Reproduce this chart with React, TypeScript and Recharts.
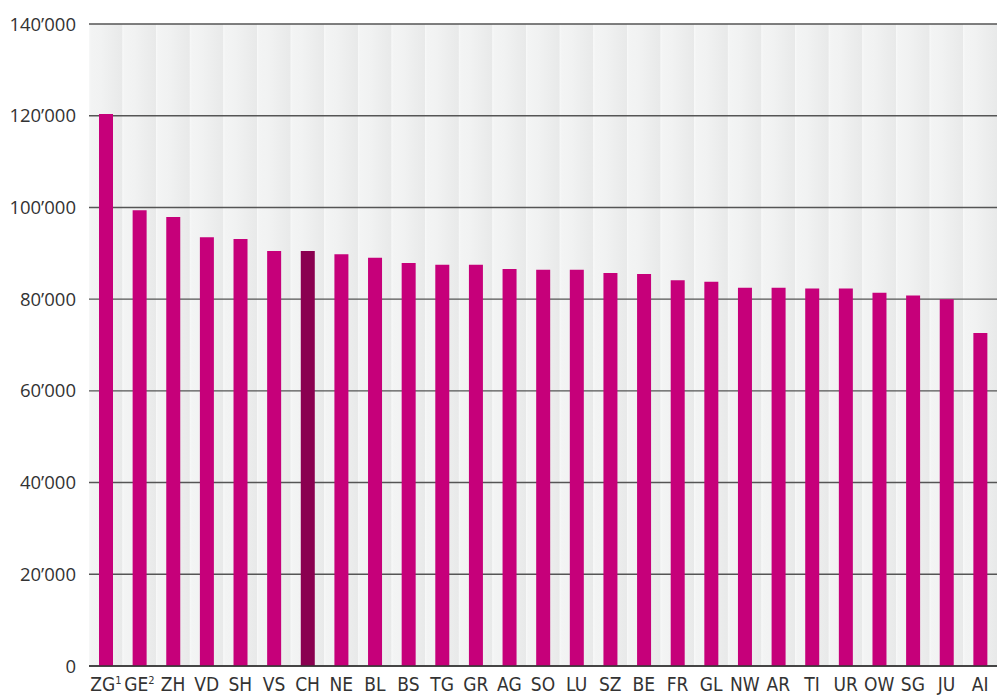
import { Bar, BarChart, CartesianGrid, Cell, ReferenceArea, XAxis, YAxis } from 'recharts'

const cantons = ['ZG', 'GE', 'ZH', 'VD', 'SH', 'VS', 'CH', 'NE', 'BL', 'BS', 'TG', 'GR', 'AG', 'SO', 'LU', 'SZ', 'BE', 'FR', 'GL', 'NW', 'AR', 'TI', 'UR', 'OW', 'SG', 'JU', 'AI']
const values = [120400, 99400, 97900, 93500, 93100, 90500, 90500, 89800, 89000, 87900, 87500, 87500, 86600, 86400, 86400, 85700, 85500, 84100, 83800, 82500, 82500, 82300, 82300, 81400, 80800, 80000, 72600]
const footnotes: Record<string, string> = { ZG: '1', GE: '2' }
const yTicks = [0, 20000, 40000, 60000, 80000, 100000, 120000, 140000]

const PINK = '#c6007a'
const DARK = '#8a0050'

const rows = cantons.map((c, i) => ({ canton: c, value: values[i] }))

const fmt = (n: number) => n === 0 ? '0' : `${Math.floor(n / 1000)}’000`

function CantonTick(props: any) {
  const { x, y, payload } = props
  const note = footnotes[payload.value]
  return (
    <text x={x} y={y} dy="0.71em" textAnchor="middle" fill="#333" fontSize={19} fontStretch="condensed"
      fontFamily="'DejaVu Sans Condensed', 'DejaVu Sans', sans-serif">
      {payload.value}
      {note && <tspan dy={-7} fontSize={11}>{note}</tspan>}
    </text>
  )
}

export default function App() {
  return (
    <div style={{ position: 'absolute', left: 0, top: 0, width: 997, height: 695, background: '#fff' }}>
      <BarChart width={997} height={695} data={rows} margin={{ top: 24, right: 0, bottom: 0, left: 0 }}>
        <defs>
          <linearGradient id="band" x1="0" y1="0" x2="1" y2="0">
            <stop offset="0" stopColor="#f7f8f8" />
            <stop offset="0.06" stopColor="#f3f4f4" />
            <stop offset="0.35" stopColor="#f1f2f2" />
            <stop offset="1" stopColor="#e8e9e9" />
          </linearGradient>
        </defs>
        {cantons.map(c => (
          <ReferenceArea key={c} x1={c} x2={c} fill="url(#band)" fillOpacity={1} stroke="none" ifOverflow="visible" zIndex={-200} />
        ))}
        <CartesianGrid vertical={false} stroke="#555" strokeWidth={1.4} zIndex={-100} />
        <XAxis dataKey="canton" height={29} tick={<CantonTick />} tickLine={false} tickMargin={6} axisLine={{ stroke: '#333', strokeWidth: 1.4 }} interval={0} />
        <YAxis domain={[0, 140000]} ticks={yTicks} tickFormatter={fmt} width={89} tickLine={false} axisLine={false} tickMargin={7}
          tick={{ fontSize: 18.5, fill: '#333', fontFamily: "'Open Sans', sans-serif" }} />
        <Bar dataKey="value" barSize={14} isAnimationActive={false}>
          {rows.map(r => <Cell key={r.canton} fill={r.canton === 'CH' ? DARK : PINK} />)}
        </Bar>
      </BarChart>
    </div>
  )
}
